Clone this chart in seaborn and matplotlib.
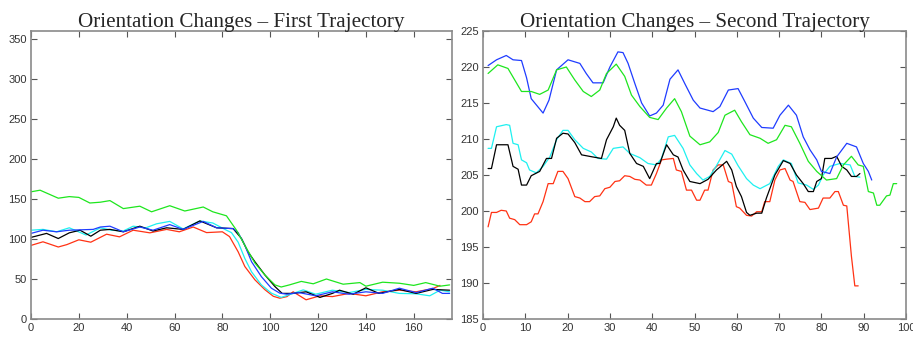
import numpy as np
import pandas as pd
import matplotlib
matplotlib.use("Agg")
import matplotlib.pyplot as plt
import seaborn as sns

# ---------------- First trajectory (left panel) ----------------
l_green_x = [0, 3.8, 11.4, 16, 20, 24.6, 29, 33, 38.6, 45.5, 50.4, 58, 64.3, 72, 76, 81.7, 85.9,
             89.4, 93.6, 97.8, 102, 104.6, 108, 113, 118, 123.5, 130.5, 137.5, 140, 147, 154, 160,
             165, 171, 175]
l_green_y = [159, 161, 151, 153, 152, 145, 146, 148, 138, 141, 134, 141.6, 135, 140, 134, 129, 111,
             92, 70, 55, 42.6, 40, 42.6, 47, 44, 50, 43.5, 45.5, 41, 46, 44.7, 42, 45.5, 41, 42.6]

l_blue_x = [0, 5, 10.7, 16, 26, 29, 33, 38.6, 45.5, 51, 58, 63.6, 72, 77.6, 84.5, 86.6, 89.4, 92.2,
            96.3, 100.5, 104, 107, 112, 119, 126, 133, 140, 147, 154, 161, 168, 172, 175]
l_blue_y = [107, 111, 109, 111, 112, 115, 116, 109, 115, 111, 118, 112, 122, 114, 113, 108, 92, 71.6,
            53, 38.5, 32.3, 31, 33, 29, 34, 31, 34, 32, 38.5, 33, 38.5, 32, 32]

l_cyan_x = [0, 5, 10.7, 16, 23, 29, 33.7, 38.6, 42.7, 48, 52.5, 58, 63.6, 70.6, 76, 81.7, 83.8,
            86.6, 89.4, 92.2, 96.3, 100.5, 104.6, 109.6, 113.8, 119, 126, 133, 140, 147, 154, 161,
            166.7, 171, 175]
l_cyan_y = [111, 112, 109, 114, 105, 114, 111, 110, 116, 114, 119, 122, 112.6, 122.6, 120, 111, 108,
            96, 75.6, 59, 42.6, 32.3, 27, 32, 36.4, 31, 36, 33, 37, 36, 32, 31.5, 29, 36, 34]

l_black_x = [0, 6.5, 11.4, 16, 20.5, 25, 29, 33, 38.6, 45.5, 51, 56.7, 63.6, 70.6, 77.6, 84.5, 88,
             90.7, 93.6, 97.8, 102, 105, 109.6, 115, 120.8, 126, 129, 134.7, 140, 145.5, 154, 161,
             168, 175]
l_black_y = [102, 107, 100.6, 107.7, 111, 103.5, 111, 112, 109, 116, 110, 114, 112, 122.6, 114, 113,
             100.6, 84, 71.6, 55, 40.5, 32, 32, 34, 27, 32, 36, 31, 39, 32, 37, 32, 37, 36]

l_red_x = [0, 5, 11.4, 15, 20, 25, 31.6, 37, 42.7, 49.7, 56.7, 62, 67.8, 73.4, 80, 83, 86.6, 89.4,
           93.6, 97.8, 101.3, 104, 107, 109.6, 115, 120.8, 126, 133, 140, 147, 154, 161, 168, 171]
l_red_y = [92, 96.5, 90, 93, 99, 96, 106, 102.7, 111, 107.7, 112, 109, 115, 108, 109, 103, 84, 65.6,
           49, 36.6, 28.4, 26, 28, 34, 24, 29, 28, 32, 29, 34, 36, 34, 38, 42]

# ---------------- Second trajectory (right panel) ----------------
r_blue_x = [1.2, 3.2, 5.5, 7.1, 9.1, 10.3, 11.4, 14.2, 15.6, 17.4, 20.1, 22.9, 24.4, 26, 28.4, 30,
            31.9, 33.1, 34.3, 35.9, 37.5, 39.4, 41, 42.6, 44.2, 46.1, 47.7, 49.7, 51.3, 54.4, 56,
            58, 60.3, 61.9, 63.9, 65.9, 68.6, 70.2, 72.2, 74.1, 75.7, 77.3, 78.9, 80, 82, 83.6, 86,
            88.3, 89.9, 91.1, 91.9]
r_blue_y = [220.2, 221, 221.6, 221, 220.9, 218.5, 215.6, 213.6, 215.4, 219.6, 221, 220.5, 219.1,
            217.8, 217.8, 220, 222.1, 222, 220.5, 217.7, 215, 213.2, 213.6, 214.7, 218.3, 219.6,
            217.7, 215.4, 214.3, 213.8, 214.5, 216.8, 217, 215.2, 212.9, 211.6, 211.5, 213.3,
            214.7, 213.3, 210.3, 208.5, 207.1, 205.5, 205.2, 207.5, 209.4, 208.9, 206.6, 205.5, 204.3]

r_green_x = [1.2, 3.5, 5.9, 7.5, 9.1, 11.4, 13.4, 15.4, 17.4, 19.7, 21.7, 23.7, 25.6, 27.6, 29.2,
             31.5, 33.5, 35.1, 37.1, 39.4, 41.4, 43.4, 45.3, 46.9, 48.9, 51.3, 53.6, 55.6, 57.2,
             59.5, 61.1, 63.1, 65.5, 67.4, 69.4, 71.4, 72.9, 74.9, 76.9, 78.9, 81.2, 83.6, 85.2,
             87.1, 88.7, 89.9, 91.1, 92.3, 93.1, 93.8, 95.4, 96.2, 97, 97.8]
r_green_y = [219.1, 220.3, 219.8, 218.2, 216.6, 216.6, 216.2, 216.8, 219.6, 220, 218.2, 216.6, 215.9,
             216.8, 219.1, 220.4, 218.7, 216.1, 214.5, 213, 212.7, 214.3, 215.6, 213.8, 210.4,
             209.2, 209.6, 210.9, 213.3, 214, 212.4, 210.6, 210.1, 209.4, 209.9, 211.9, 211.7,
             209.4, 206.9, 205.5, 204.3, 204.5, 206.4, 207.6, 206.4, 206.2, 202.7, 202.5, 200.8,
             200.8, 202.1, 202.2, 203.8, 203.8]

r_cyan_x = [1.2, 2, 3.2, 5.5, 6.3, 7.1, 8.3, 9.1, 10.3, 11, 12.6, 14.2, 15.8, 17.4, 18.9, 20.1, 21.7,
            23.7, 25.6, 27.2, 29.2, 30.8, 33.1, 34.7, 37.1, 39, 41, 42.2, 43.8, 45.3, 47.3, 48.9,
            50.5, 52, 53.6, 55.2, 57.2, 58.8, 60.3, 62.3, 63.9, 65.5, 67.8, 69.8, 71, 72.9, 74.5,
            76.5, 78.1, 79.3, 80.4, 82, 84.4, 86.8, 87.9, 89.1]
r_cyan_y = [208.7, 208.7, 211.7, 212, 211.9, 209.4, 209.2, 207.1, 206.7, 205.7, 205.3, 206.2, 207.5,
            209.9, 211.2, 211.2, 209.9, 208.7, 208.2, 207.3, 207.2, 208.7, 208.9, 208, 207.4,
            206.6, 206.4, 207.3, 210.3, 210.5, 208.7, 206.4, 205.2, 204.3, 204.8, 206.3, 208.4,
            207.9, 206.3, 204.5, 203.6, 203.1, 203.8, 206.2, 207.1, 206.6, 203.9, 203.6, 203,
            203.6, 205, 206.2, 206.6, 206.4, 204.8, 204.7]

r_black_x = [1.2, 2, 3.2, 5.9, 7.1, 8.3, 9.1, 10.3, 11.4, 13.4, 15, 16.2, 17.4, 18.9, 20.1, 21.7,
             23.3, 26, 28, 29.2, 30.8, 31.5, 32.3, 33.5, 34.7, 36.3, 37.9, 39.4, 41, 41.8, 43.4,
             45, 46.1, 47.3, 48.9, 51.3, 53.2, 55.2, 57.6, 58.8, 59.9, 61.1, 62.3, 63.1, 64.7,
             65.9, 67, 69, 71, 72.6, 74.1, 75.7, 76.9, 78.1, 78.9, 80, 80.8, 82.4, 83.6, 84.8, 86,
             87.1, 88.3, 89.1]
r_black_y = [205.9, 205.9, 209.2, 209.2, 206.2, 205.8, 203.6, 203.6, 204.9, 205.5, 207.3, 207.3,
             210.1, 210.8, 210.7, 209.5, 207.8, 207.5, 207.3, 209.9, 211.7, 212.9, 211.9, 211.2,
             208, 206.6, 206.2, 204.5, 206.6, 206.6, 209.2, 207.8, 207.5, 205.7, 204.1, 203.8,
             204.4, 205.7, 206.9, 205.7, 203.4, 202, 199.8, 199.4, 199.7, 199.7, 201.8, 205, 207,
             206.6, 205, 203.8, 202.7, 202.7, 204.1, 204.5, 207.3, 207.3, 207.6, 206.2, 205.7,
             204.8, 204.8, 205.2]

r_red_x = [1.2, 2, 3.2, 4.3, 5.5, 6.3, 7.5, 8.7, 10.3, 11.4, 12.2, 13, 14.2, 15.4, 16.6, 17.7, 18.9,
           20.1, 21.7, 22.9, 24.1, 25.2, 26.4, 27.6, 28.8, 30, 31.2, 32.3, 33.5, 34.7, 35.9, 37.1,
           38.6, 39.8, 41, 42.2, 43.4, 45, 45.7, 46.9, 48.1, 49.3, 50.5, 51.3, 52.4, 53.2, 54.4,
           55.6, 56.8, 58, 58.8, 59.9, 60.7, 62.3, 63.5, 64.7, 65.9, 66.6, 67.8, 69, 70.2, 71.4,
           72.6, 73.3, 74.9, 76.1, 77.3, 79.3, 80.4, 82, 83.2, 84, 85.2, 86, 87.1, 87.9, 88.7]
r_red_y = [197.8, 199.8, 199.8, 200.1, 200, 199, 198.8, 198.1, 198.1, 198.5, 199.6, 199.6, 201.3,
           203.8, 203.8, 205.5, 205.5, 204.5, 202, 201.8, 201.3, 201.3, 202, 202.1, 203.1, 203.3,
           204.1, 204.2, 204.9, 204.8, 204.4, 204.3, 203.6, 203.6, 205.2, 207.1, 207.2, 207.3,
           205.7, 205.5, 202.9, 202.9, 201.5, 201.5, 202.9, 202.9, 205.7, 206.4, 206.4, 204.1,
           203.9, 200.6, 200.4, 199.4, 199.3, 199.9, 199.9, 201.3, 201.3, 204.3, 205.7, 205.9,
           204.3, 204.1, 201.3, 201.2, 200.2, 200.4, 201.8, 201.8, 202.7, 202.7, 200.8, 200.7,
           193.7, 189.6, 189.6]

series_order = ["red", "cyan", "black", "blue", "green"]
palette = {"green": "#1ee61e", "blue": "#1f3cff", "cyan": "#1ef0f0",
           "black": "#000000", "red": "#ff3214"}

left_title = "Orientation Changes \u2013 First Trajectory"
right_title = "Orientation Changes \u2013 Second Trajectory"


def make_df(d):
    frames = []
    for name in series_order:
        xs, ys = d[name]
        frames.append(pd.DataFrame({"x": xs, "y": ys, "series": name}))
    return pd.concat(frames, ignore_index=True)


left_df = make_df({"green": (l_green_x, l_green_y), "blue": (l_blue_x, l_blue_y),
                   "cyan": (l_cyan_x, l_cyan_y), "black": (l_black_x, l_black_y),
                   "red": (l_red_x, l_red_y)})
right_df = make_df({"green": (r_green_x, r_green_y), "blue": (r_blue_x, r_blue_y),
                    "cyan": (r_cyan_x, r_cyan_y), "black": (r_black_x, r_black_y),
                    "red": (r_red_x, r_red_y)})

sns.set_theme(style="white")
plt.rcParams["font.family"] = ["Liberation Sans", "DejaVu Sans"]

fig = plt.figure(figsize=(9.13, 3.37), dpi=100)
ax1 = fig.add_axes([31 / 913, 18 / 337, 421 / 913, 288 / 337])
ax2 = fig.add_axes([483 / 913, 18 / 337, 423 / 913, 288 / 337])

for ax, df, title, xlim, ylim, xt, yt in [
    (ax1, left_df, left_title, (0, 176), (0, 360), np.arange(0, 161, 20), np.arange(0, 351, 50)),
    (ax2, right_df, right_title, (0, 100), (185, 225), np.arange(0, 101, 10), np.arange(185, 226, 5)),
]:
    sns.lineplot(data=df, x="x", y="y", hue="series", palette=palette, hue_order=series_order,
                 estimator=None, sort=False, linewidth=0.9, legend=False, ax=ax)
    ax.set_xlim(*xlim)
    ax.set_ylim(*ylim)
    ax.set_xticks(xt)
    ax.set_yticks(yt)
    ax.set_xlabel("")
    ax.set_ylabel("")
    ax.set_title(title, family=["Liberation Serif", "DejaVu Serif"], fontsize=15.2, pad=3)
    ax.tick_params(direction="in", length=4, width=0.8, colors="#555555", labelsize=8,
                   top=True, right=True, bottom=True, left=True, pad=3,
                   labelcolor="#333333")
    for sp in ax.spines.values():
        sp.set_color("#8a8a8a")
        sp.set_linewidth(1.2)
        sp.set_visible(True)

fig.savefig("out.png", dpi=100, facecolor="white")
